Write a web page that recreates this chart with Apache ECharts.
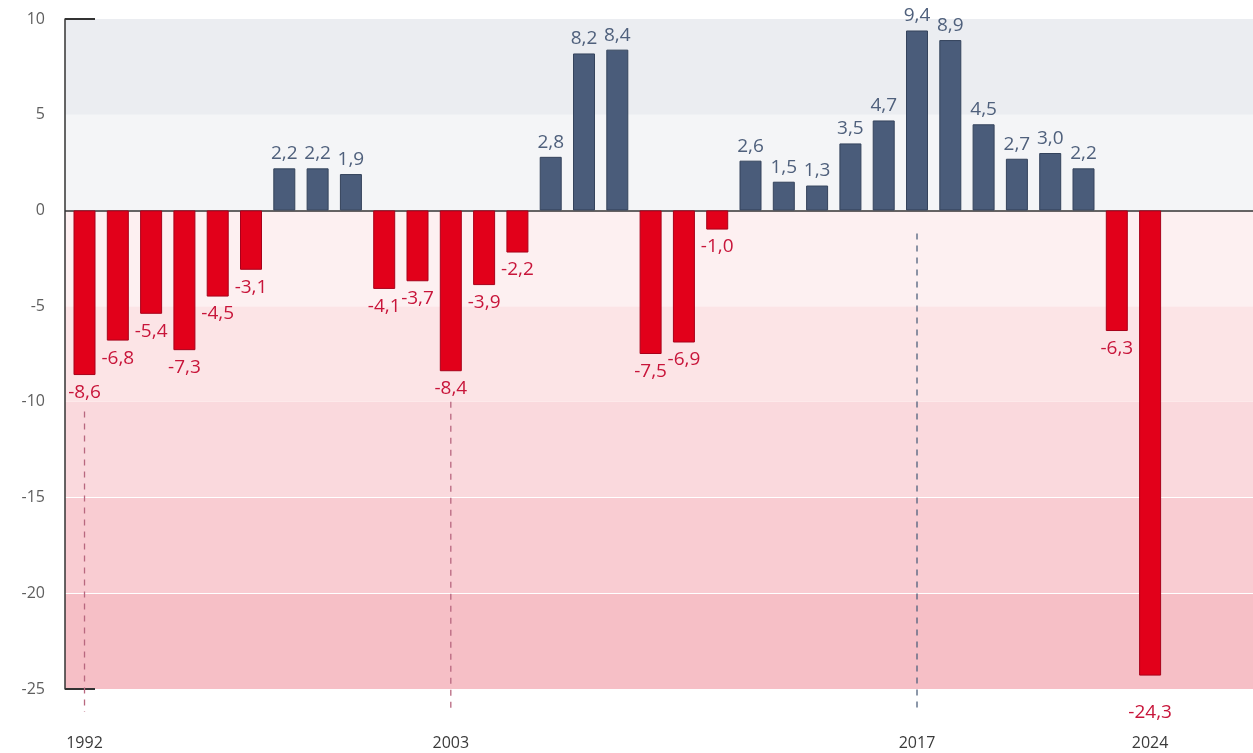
<!DOCTYPE html>
<html><head><meta charset="utf-8">
<script src="https://cdn.jsdelivr.net/npm/echarts@6/dist/echarts.min.js"></script>
<style>html,body{margin:0;padding:0;background:#fff}#c{width:1253px;height:753px}</style>
</head><body><div id="c"></div>
<script>
const years = [1992,1993,1994,1995,1996,1997,1998,1999,2000,2001,2002,2003,2004,2005,2006,2007,2008,2009,2010,2011,2012,2013,2014,2015,2016,2017,2018,2019,2020,2021,2022,2023,2024];
const values = [-8.6,-6.8,-5.4,-7.3,-4.5,-3.1,2.2,2.2,1.9,-4.1,-3.7,-8.4,-3.9,-2.2,2.8,8.2,8.4,-7.5,-6.9,-1.0,2.6,1.5,1.3,3.5,4.7,9.4,8.9,4.5,2.7,3.0,2.2,-6.3,-24.3];
const xLabelYears = [1992, 2003, 2017, 2024];
const bandEdges = [-25, -20, -15, -10, -5, 0, 5, 10];
const whiteLines = [-20, -15];
const markerYears = [1992, 2003, 2017];
const markerTops = [-10.5, -10.0, -1.2];
const markerBottom = -26.2;

const RED = '#e2001a', BLUE = '#4a5c7a';
const RED_TXT = '#c8153a', BLUE_TXT = '#4f607c';
const FONT = 'Open Sans';
const bandColors = ['#f6bfc6', '#f9ccd2', '#fad9dd', '#fce4e6', '#fdf0f1', '#f4f5f7', '#ebedf1'];

const barData = years.map((y, i) => {
  const v = values[i];
  const neg = v < 0;
  return {
    value: [y, v],
    itemStyle: { color: neg ? RED : BLUE, borderColor: neg ? '#a8001a' : '#34435c', borderWidth: 1 },
    label: { position: neg ? 'bottom' : 'top', color: neg ? RED_TXT : BLUE_TXT, distance: neg ? (v < -20 ? 27 : 8) : 5 }
  };
});

const bands = bandColors.map((c, i) => [
  { yAxis: bandEdges[i], itemStyle: { color: c } },
  { yAxis: bandEdges[i + 1] }
]);

const chart = echarts.init(document.getElementById('c'), null, { renderer: 'canvas' });
chart.setOption({
  animation: false,
  backgroundColor: '#ffffff',
  grid: { left: 65, right: 0, top: 19, bottom: 64, containLabel: false },
  xAxis: {
    type: 'value',
    min: 1991.414,
    max: 2027.09,
    axisLine: { show: false, onZero: false },
    axisTick: { show: false },
    splitLine: { show: false },
    axisLabel: {
      customValues: xLabelYears,
      formatter: v => String(v),
      color: '#3a3a3a',
      fontFamily: FONT,
      fontSize: 16,
      margin: 46
    }
  },
  yAxis: {
    type: 'value',
    min: -25,
    max: 10,
    interval: 5,
    z: 5,
    axisLine: { show: true, lineStyle: { color: '#333', width: 1.5 } },
    axisTick: { show: true, customValues: [10, -25], inside: true, length: 30, lineStyle: { color: '#333', width: 2 } },
    axisLabel: { color: '#5f5f5f', fontFamily: FONT, fontSize: 16, margin: 20 },
    splitLine: { show: false }
  },
  series: [{
    type: 'line',
    data: [],
    z: 1,
    zlevel: 0,
    silent: true,
    markArea: { silent: true, label: { show: false }, data: bands },
    markLine: {
      silent: true, symbol: 'none', label: { show: false },
      lineStyle: { color: '#ffffff', width: 1.2, type: 'solid' },
      data: whiteLines.map(v => ({ yAxis: v }))
    }
  }, {
    type: 'bar',
    data: barData,
    barWidth: 22,
    z: 3,
    zlevel: 1,
    label: {
      show: true,
      fontFamily: FONT,
      fontSize: 19,
      formatter: p => p.value[1].toFixed(1).replace('.', ',')
    },
    markLine: {
      silent: true,
      symbol: 'none',
      label: { show: false },
      data: [{ yAxis: 0, lineStyle: { color: '#333', width: 1.5, type: 'solid' } }]
    }
  }]
});

// dashed guide lines, positioned through the chart's own scales
const markerColors = ['#b8677f', '#b8677f', '#4f607c'];
const guides = markerYears.map((y, i) => {
  const p1 = chart.convertToPixel({ gridIndex: 0 }, [y, markerTops[i]]);
  const p2 = chart.convertToPixel({ gridIndex: 0 }, [y, markerBottom]);
  return {
    type: 'line', silent: true, z: 10,
    shape: { x1: p1[0], y1: p1[1], x2: p2[0], y2: p2[1] },
    style: { stroke: markerColors[i], lineWidth: 1.3, lineDash: [6, 6] }
  };
});
chart.setOption({ graphic: guides });
</script></body></html>
